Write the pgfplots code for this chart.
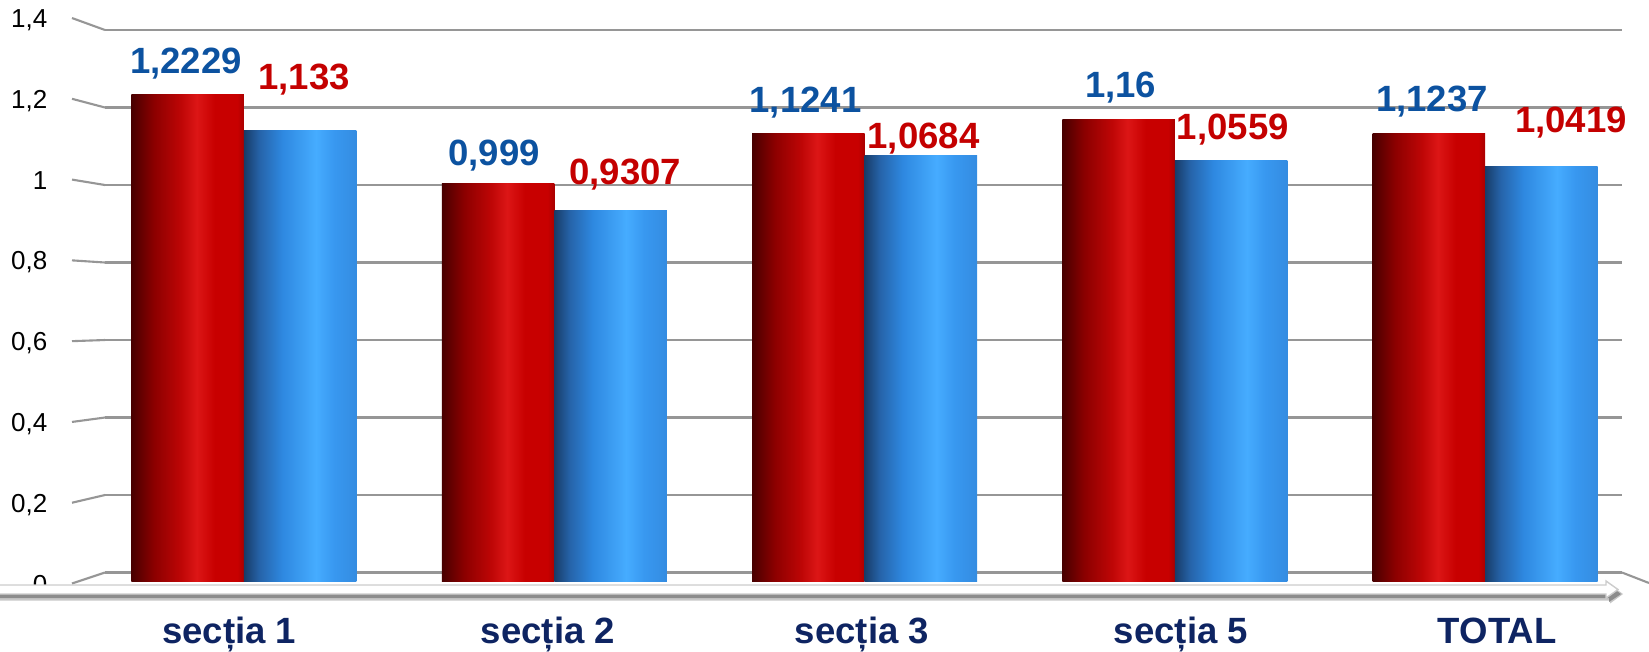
\documentclass[border=0pt]{standalone}
\usepackage{fontspec}
\setmainfont{Liberation Sans}
\usepackage{pgfplots}
\pgfplotsset{compat=1.18}
\usepackage{pgfplotstable}

\definecolor{gridgray}{RGB}{150,150,150}
\definecolor{lblblue}{RGB}{12,82,160}
\definecolor{lblred}{RGB}{196,0,0}
\definecolor{navy}{RGB}{14,36,98}
\definecolor{r0}{RGB}{72,0,0}
\definecolor{r1}{RGB}{140,0,0}
\definecolor{r2}{RGB}{190,6,6}
\definecolor{r3}{RGB}{220,22,22}
\definecolor{r4}{RGB}{200,0,0}
\definecolor{r5}{RGB}{170,0,0}
\definecolor{b0}{RGB}{24,60,104}
\definecolor{b1}{RGB}{38,100,170}
\definecolor{b2}{RGB}{46,136,224}
\definecolor{b3}{RGB}{70,172,255}
\definecolor{b4}{RGB}{56,152,240}
\definecolor{b5}{RGB}{52,140,225}

\pgfdeclarehorizontalshading{redcyl}{100bp}{color(0bp)=(r0); color(25bp)=(r0); color(35bp)=(r1); color(47bp)=(r2); color(54bp)=(r3); color(62bp)=(r4); color(72bp)=(r4); color(75bp)=(r5); color(100bp)=(r5)}
\pgfdeclarehorizontalshading{bluecyl}{100bp}{color(0bp)=(b0); color(25bp)=(b0); color(32bp)=(b1); color(42bp)=(b2); color(57bp)=(b3); color(65bp)=(b4); color(75bp)=(b5); color(100bp)=(b5)}

\newcommand\lblfont{\fontsize{10.4}{12}\selectfont\bfseries}

\pgfplotstableread{
x y dx dy lab
0 1.2229 -2 21.3 1,2229
1 0.999 -4 18.4 0,999
2 1.1241 -3 21.6 1,1241
3 1.16 2 22.3 1,16
4 1.1237 3 21.8 1,1237
}\redtab

\pgfplotstableread{
x y dx dy lab
0 1.133 4 41 1,133
1 0.9307 15 25.6 0,9307
2 1.0684 3 6.8 1,0684
3 1.0559 2 20.8 1,0559
4 1.0419 30 34.3 1,0419
}\bluetab

\pgfplotsset{
  redbars/.style={ybar, bar width=1.125cm, bar shift=-0.5625cm, draw=none, shade, shading=redcyl,
    nodes near coords, point meta=explicit symbolic,
    visualization depends on={\thisrow{dx}\as\dx},
    visualization depends on={\thisrow{dy}\as\dy},
    nodes near coords style={anchor=base, inner sep=0pt, xshift=\dx*0.2845pt-15.946pt, yshift=\dy*0.2845pt, font=\lblfont, text=lblblue}},
  bluebars/.style={ybar, bar width=1.125cm, bar shift=0.5625cm, draw=none, shade, shading=bluecyl,
    nodes near coords, point meta=explicit symbolic,
    visualization depends on={\thisrow{dx}\as\dx},
    visualization depends on={\thisrow{dy}\as\dy},
    nodes near coords style={anchor=base, inner sep=0pt, xshift=\dx*0.2845pt+15.946pt, yshift=\dy*0.2845pt, font=\lblfont, text=lblred}},
}
\newcommand\barpair[2]{%
  \addplot[redbars, skip coords between index={0}{#1}, skip coords between index={#2}{9}] table[x=x, y=y, meta=lab]{\redtab};
  \addplot[bluebars, skip coords between index={0}{#1}, skip coords between index={#2}{9}] table[x=x, y=y, meta=lab]{\bluetab};
}

\begin{document}
\begin{tikzpicture}
\begin{axis}[
  name=main, at={(0,0)}, anchor=south west,
  scale only axis, width=15.17cm, height=5.425cm,
  xmin=-0.448, xmax=4.4416, ymin=0, ymax=1.4,
  axis line style={draw=none},
  major tick length=0pt,
  ytick={0,0.2,0.4,0.6,0.8,1,1.2,1.4},
  ymajorgrids, grid style={gridgray, line width=0.6pt},
  xtick={-0.048,0.98,1.992,3.02,4.039},
  xticklabels={secția 1, secția 2, secția 3, secția 5, TOTAL},
  xticklabel style={anchor=base, inner sep=0pt, yshift=-0.705cm, font=\lblfont, text=navy},
  yticklabel style={anchor=base east, inner sep=0pt, xshift=-0.57cm, font=\fontsize{7.4}{8}\selectfont},
  /pgf/number format/assume math mode=true,
  yticklabel={\pgfmathsetlengthmacro\myraise{(-20.5+16.43*\tick)*0.2845pt}\raisebox{\myraise}{\pgfmathprintnumber[use comma]{\tick}}},
]
\addplot[draw=none, forget plot] coordinates {(0,0)};
\end{axis}

\begin{axis}[
  at={(0,-0.085cm)}, anchor=south west,
  scale only axis, width=15.17cm, height=5.572cm,
  xmin=-0.448, xmax=4.4416, ymin=0, ymax=1.4,
  hide axis, clip=false,
]
\barpair{0}{1}
\barpair{1}{2}
\barpair{2}{3}
\barpair{3}{4}
\barpair{4}{5}
\end{axis}

% perspective stubs of the back wall
\foreach \i in {0,...,7}{
  \draw[gridgray, line width=0.6pt] (-0.33cm,{\i*0.775cm+(-11+23*\i/7)*0.01cm}) -- (0,{\i*0.775cm});
}
\draw[gridgray, line width=0.6pt] (15.17cm,0) -- (15.44cm,-0.105cm);

% arrow with shadow
\fill[black!22] (-1.05cm,-0.16cm) -- (15.05cm,-0.16cm) -- (15.05cm,-0.12cm) -- (15.18cm,-0.215cm) -- (15.05cm,-0.31cm) -- (15.05cm,-0.28cm) -- (-1.05cm,-0.28cm) -- cycle;
\fill[black!45] (-1.05cm,-0.17cm) -- (15.04cm,-0.17cm) -- (15.04cm,-0.13cm) -- (15.16cm,-0.215cm) -- (15.04cm,-0.295cm) -- (15.04cm,-0.255cm) -- (-1.05cm,-0.255cm) -- cycle;
\filldraw[fill=white, draw=gray!40, line width=0.4pt] (-1.1cm,-0.125cm) -- (15.01cm,-0.125cm) -- (15.01cm,-0.085cm) -- (15.13cm,-0.17cm) -- (15.01cm,-0.255cm) -- (15.01cm,-0.215cm) -- (-1.1cm,-0.215cm) -- cycle;

\pgfresetboundingbox
\useasboundingbox (-1.05cm,-0.785cm) rectangle (15.44cm,5.725cm);
\end{tikzpicture}
\end{document}
